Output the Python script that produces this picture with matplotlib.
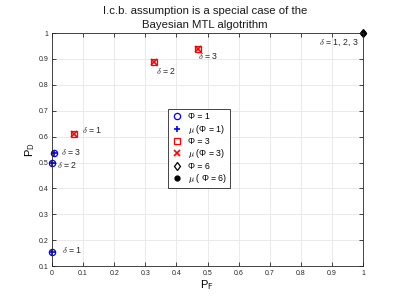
import numpy as np
from matplotlib import pyplot as plt

plt.rcParams['font.family'] = ['Liberation Sans', 'DejaVu Sans']
plt.rcParams['mathtext.fontset'] = 'cm'

# Phi = 1 (blue), Phi = 3 (red), Phi = 6 (black)
pf_phi1 = [0.0, 0.0, 0.007]
pd_phi1 = [0.155, 0.50, 0.535]
pf_phi3 = [0.07, 0.328, 0.47]
pd_phi3 = [0.61, 0.888, 0.938]
pf_phi6 = [1.0]
pd_phi6 = [1.0]

delta_labels = ["$\\delta$ = 1", "$\\delta$ = 2", "$\\delta$ = 3",
                "$\\delta$ = 1", "$\\delta$ = 2", "$\\delta$ = 3",
                "$\\delta$ = 1, 2, 3"]
delta_x = [0.032, 0.017, 0.029, 0.095, 0.336, 0.47, 0.858]
delta_y = [0.162, 0.49, 0.542, 0.625, 0.853, 0.911, 0.961]

fig = plt.figure(figsize=(4, 3), dpi=100)
ax = fig.add_axes([0.13, 0.113, 0.7775, 0.777])

ms = 4.5
ax.plot(pf_phi1, pd_phi1, 'o', mfc='none', mec='#0000ff', ms=ms, mew=0.9, label="Φ = 1", clip_on=False)
ax.plot(pf_phi1, pd_phi1, '+', color='#0000ff', ms=ms, mew=1.2, label="$\\mu$ (Φ = 1)", clip_on=False)
ax.plot(pf_phi3, pd_phi3, 's', mfc='none', mec='#ff0000', ms=ms, mew=0.9, label="Φ = 3", clip_on=False)
ax.plot(pf_phi3, pd_phi3, 'x', color='#ff0000', ms=ms - 0.5, mew=1.2, label="$\\mu$ (Φ = 3)", clip_on=False)
ax.plot(pf_phi6, pd_phi6, 'd', mfc='none', mec='k', ms=ms, mew=0.9, label="Φ = 6", clip_on=False)
ax.plot(pf_phi6, pd_phi6, '.', color='k', ms=7, label="$\\mu$ ( Φ = 6)", clip_on=False)

for s, x, y in zip(delta_labels, delta_x, delta_y):
    ax.text(x, y, s, fontsize=6.3, va='center', ha='left', color='#262626')

ax.set_xlim(0, 1)
ax.set_ylim(0.1, 1)
ax.set_xticks(np.arange(0, 1.01, 0.1))
ax.set_yticks(np.arange(0.1, 1.01, 0.1))
ax.set_xticklabels(["0", "0.1", "0.2", "0.3", "0.4", "0.5", "0.6", "0.7", "0.8", "0.9", "1"])
ax.set_yticklabels(["0.1", "0.2", "0.3", "0.4", "0.5", "0.6", "0.7", "0.8", "0.9", "1"])
ax.tick_params(direction='in', length=3, width=0.6, labelsize=5, colors='#262626',
               top=True, right=True, pad=2.5)
for sp in ax.spines.values():
    sp.set_color('#262626')
    sp.set_linewidth(0.6)
ax.grid(True, color='#e6e6e6', linewidth=0.6)
ax.set_axisbelow(True)

ax.set_xlabel("P$_\\mathsf{F}$", fontsize=8, labelpad=1)
ax.set_ylabel("P$_\\mathsf{D}$", fontsize=8, labelpad=1)
fig.text(0.5125, 0.963, "I.c.b. assumption is a special case of the", fontsize=8.2,
         ha='center', va='center', color='#1a1a1a')
fig.text(0.5125, 0.918, "Bayesian MTL algotrithm", fontsize=8.2,
         ha='center', va='center', color='#1a1a1a')

leg = ax.legend(loc='lower left', bbox_to_anchor=(0.373, 0.335), mode=None,
                fontsize=6.3, frameon=True, fancybox=False, edgecolor='#262626', framealpha=1,
                borderpad=0.35, handlelength=1.3, handletextpad=0.6, labelspacing=0.15,
                borderaxespad=0)
leg.get_frame().set_linewidth(0.6)

fig.savefig("out.png", dpi=100)
